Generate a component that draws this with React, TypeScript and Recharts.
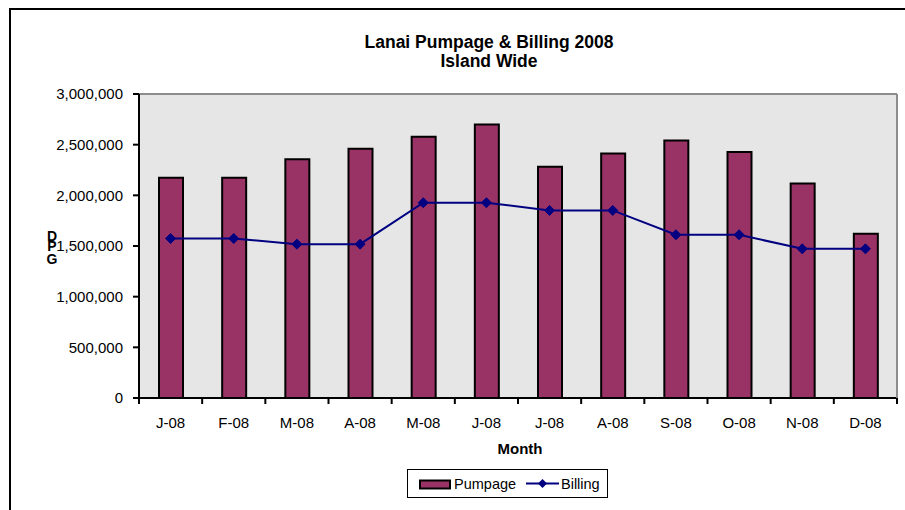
import React from 'react';
import { ComposedChart, Bar, Line, XAxis, YAxis, CartesianGrid, ReferenceLine } from 'recharts';

const months = ['J-08', 'F-08', 'M-08', 'A-08', 'M-08', 'J-08', 'J-08', 'A-08', 'S-08', 'O-08', 'N-08', 'D-08'];
const pumpage = [2174000, 2174000, 2355000, 2460000, 2579000, 2700000, 2283000, 2414000, 2542000, 2427000, 2118000, 1620000];
const billing = [1574000, 1574000, 1518000, 1518000, 1927000, 1927000, 1851000, 1851000, 1611000, 1611000, 1472000, 1472000];
const yTicks = [0, 500000, 1000000, 1500000, 2000000, 2500000, 3000000];

const data = months.map((m, i) => ({ month: m, pumpage: pumpage[i], billing: billing[i] }));

const W = 905;
const H = 510;
const LEFT = 139;
const RIGHT_W = 8;
const TOP = 94;
const BOTTOM = 112;
const PLOT_W = W - LEFT - RIGHT_W;
const BAND = PLOT_W / months.length;
const FONT = '"Liberation Sans", Arial, sans-serif';

const XTick = (props: any) => {
  const { x, y, payload, index } = props;
  const half = BAND / 2;
  return (
    <g>
      <line x1={x - half} x2={x - half} y1={y} y2={y + 6} stroke="#000" strokeWidth={2} />
      {index === months.length - 1 && (
        <line x1={x + half} x2={x + half} y1={y} y2={y + 6} stroke="#000" strokeWidth={2} />
      )}
      <text x={x} y={y + 30} textAnchor="middle" fontSize={15} fill="#000" fontFamily={FONT}>
        {payload.value}
      </text>
    </g>
  );
};

const Diamond = (props: any) => {
  const { cx, cy } = props;
  if (cx == null || cy == null) return null;
  const r = 5;
  return (
    <polygon
      points={`${cx},${cy - r} ${cx + r},${cy} ${cx},${cy + r} ${cx - r},${cy}`}
      fill="#000080"
      stroke="#000080"
      strokeWidth={1}
    />
  );
};

const fmt = (v: number) => v.toLocaleString('en-US');

export default function App() {
  return (
    <div style={{ position: 'absolute', left: 0, top: 0, width: W, height: H, fontFamily: FONT, background: '#fff' }}>
      <div
        style={{
          position: 'absolute',
          left: 9,
          top: 8,
          width: W - 9,
          height: H - 8,
          borderTop: '2.5px solid #000',
          borderLeft: '2.5px solid #000',
          boxSizing: 'border-box',
        }}
      />
      <ComposedChart
        width={W}
        height={H}
        data={data}
        margin={{ top: TOP, right: 0, bottom: BOTTOM - 30, left: 0 }}
        style={{ position: 'absolute', left: 0, top: 0 }}
      >
        <CartesianGrid horizontal={false} vertical={false} fill="#E6E6E6" />
        <XAxis
          dataKey="month"
          xAxisId="x"
          height={30}
          interval={0}
          allowDuplicatedCategory={true}
          tickSize={0}
          tickMargin={0}
          tickLine={false}
          axisLine={{ stroke: '#000', strokeWidth: 2 }}
          tick={<XTick />}
        />
        <YAxis
          yAxisId="y"
          width={LEFT}
          domain={[0, 3000000]}
          ticks={yTicks}
          tickFormatter={fmt}
          tickSize={6}
          tickMargin={10}
          tickLine={{ stroke: '#000', strokeWidth: 2 }}
          axisLine={{ stroke: '#000', strokeWidth: 2 }}
          tick={{ fill: '#000', fontSize: 15, fontFamily: FONT }}
          interval={0}
        />
        <YAxis
          yAxisId="r"
          orientation="right"
          width={RIGHT_W}
          tick={false}
          tickLine={false}
          axisLine={{ stroke: '#8c8c8c', strokeWidth: 2 }}
        />
        <ReferenceLine xAxisId="x" yAxisId="y" y={3000000} stroke="#8c8c8c" strokeWidth={2} ifOverflow="visible" />
        <Bar
          xAxisId="x"
          yAxisId="y"
          dataKey="pumpage"
          fill="#993366"
          stroke="#000"
          strokeWidth={2}
          barSize={24}
          isAnimationActive={false}
        />
        <Line
          xAxisId="x"
          yAxisId="y"
          type="linear"
          dataKey="billing"
          stroke="#000080"
          strokeWidth={2}
          dot={<Diamond />}
          activeDot={false}
          isAnimationActive={false}
        />
      </ComposedChart>

      <div style={{ position: 'absolute', left: 0, width: 978, top: 33, textAlign: 'center', fontWeight: 'bold', fontSize: 17.5, lineHeight: '19px', color: '#000' }}>
        <div>Lanai Pumpage &amp; Billing 2008</div>
        <div>Island Wide</div>
      </div>

      <div style={{ position: 'absolute', left: 44, top: 229, width: 16, textAlign: 'center', fontWeight: 'bold', fontSize: 14, color: '#000' }}>
        <div style={{ position: 'absolute', left: 0, width: 16, top: 0, lineHeight: '14px' }}>D</div>
        <div style={{ position: 'absolute', left: 0, width: 16, top: 10, lineHeight: '14px' }}>P</div>
        <div style={{ position: 'absolute', left: 0, width: 16, top: 23, lineHeight: '14px' }}>G</div>
      </div>

      <div style={{ position: 'absolute', left: 470, width: 100, top: 440, textAlign: 'center', fontWeight: 'bold', fontSize: 15, lineHeight: '17px', color: '#000' }}>
        Month
      </div>

      <div
        style={{
          position: 'absolute',
          left: 407,
          top: 469,
          width: 201,
          height: 29,
          border: '1.5px solid #000',
          boxSizing: 'border-box',
          background: '#fff',
        }}
      >
        <svg width={198} height={26} style={{ position: 'absolute', left: 0, top: 0 }}>
          <rect x={12} y={10.5} width={30} height={8} fill="#993366" stroke="#000" strokeWidth={2} />
          <text x={46} y={19} fontSize={14.5} fill="#000" fontFamily={FONT}>Pumpage</text>
          <line x1={118} x2={151} y1={13.5} y2={13.5} stroke="#000080" strokeWidth={2} />
          <polygon points="134.5,9 139,13.5 134.5,18 130,13.5" fill="#000080" />
          <text x={153} y={19} fontSize={14.5} fill="#000" fontFamily={FONT}>Billing</text>
        </svg>
      </div>
    </div>
  );
}
